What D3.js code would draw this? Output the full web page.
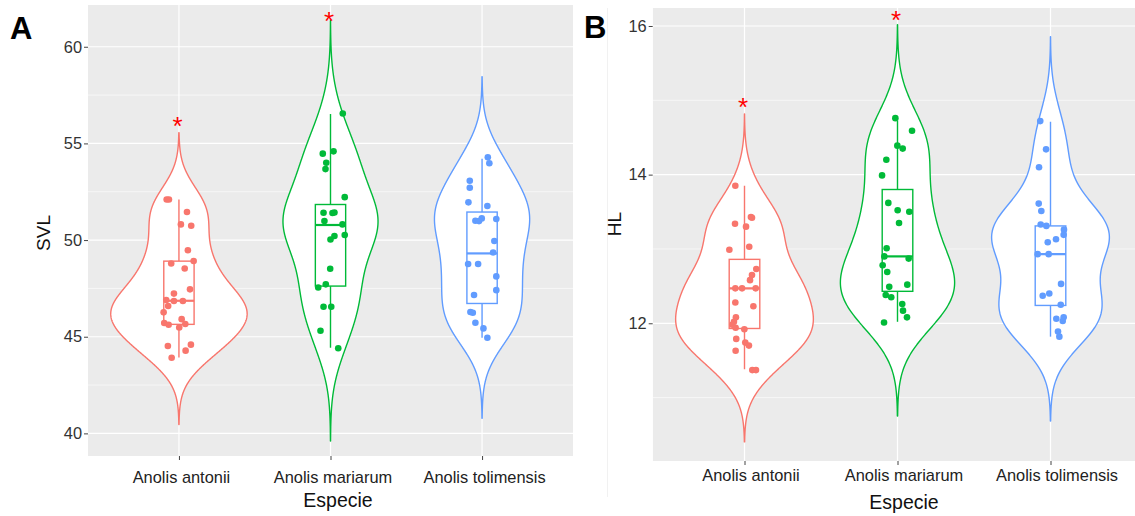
<!DOCTYPE html>
<html>
<head>
<meta charset="utf-8">
<script src="https://cdn.jsdelivr.net/npm/d3@7"></script>
<style>
  body { margin: 0; background: #fff; }
  svg { display: block; }
  text { font-family: "Liberation Sans", Arial, sans-serif; }
</style>
</head>
<body>
<svg id="chart" width="1135" height="516"></svg>
<script>
// ---------- data ----------
const species = ["Anolis antonii", "Anolis mariarum", "Anolis tolimensis"];
const speciesColors = ["#F8766D", "#00BA38", "#619CFF"];

// Snout-vent length (SVL) per individual, with horizontal jitter (category units)
const svlAntonii = [52.1, 52.1, 51.45, 50.81, 50.74, 49.47, 48.92, 48.79, 48.53, 47.45, 47.23, 46.90, 46.85,
  46.85, 46.59, 46.26, 45.91, 45.71, 45.62, 45.66, 45.48, 44.52, 44.59, 44.28, 43.91];
const svlAntoniiJitter = [-0.081, -0.066, 0.053, 0.013, 0.081, 0.059, 0.097, -0.051, 0.038, 0.073, -0.033, -0.084, -0.033,
  0.026, -0.071, -0.101, 0.018, -0.097, -0.068, 0.042, 0.002, -0.073, 0.079, 0.044, -0.048];
const svlMariarum = [56.55, 54.59, 54.47, 54.00, 53.67, 52.22, 51.41, 51.40, 51.43, 50.98, 50.81, 50.26, 50.21,
  50.03, 48.52, 47.71, 47.55, 46.55, 46.55, 45.31, 44.40];
const svlMariarumJitter = [0.081, 0.020, -0.051, -0.028, -0.033, 0.094, -0.046, 0.013, 0.026, -0.040, 0.079, 0.094, 0.026,
  0.000, -0.002, -0.031, -0.081, -0.046, 0.005, -0.066, 0.051];
const svlTolimensis = [54.28, 53.97, 53.07, 52.71, 51.95, 51.76, 51.12, 51.00, 50.98, 51.09, 49.95, 49.36, 48.76,
  48.76, 48.12, 47.41, 47.16, 46.28, 46.24, 45.72, 45.43, 44.95];
const svlTolimensisJitter = [0.038, 0.048, -0.081, -0.081, -0.090, 0.035, -0.002, -0.044, -0.020, 0.094, 0.081, 0.073, -0.092,
  -0.026, 0.094, 0.094, -0.053, -0.077, -0.061, -0.044, 0.009, 0.035];

// Head length (HL) per individual
const hlAntonii = [13.85, 13.43, 13.42, 13.34, 13.30, 13.03, 12.99, 12.73, 12.65, 12.58, 12.47, 12.47, 12.47,
  12.28, 12.23, 12.08, 12.02, 11.98, 11.94, 11.92, 11.79, 11.74, 11.70, 11.63, 11.37, 11.37];
const hlAntoniiJitter = [-0.060, 0.042, 0.049, -0.062, 0.010, 0.031, -0.099, 0.077, 0.049, 0.036, -0.060, -0.016, 0.073,
  -0.060, 0.058, -0.056, -0.069, -0.080, -0.058, -0.001, -0.054, 0.005, 0.029, -0.058, 0.051, 0.075];
const hlMariarum = [14.76, 14.59, 14.39, 14.35, 14.20, 13.99, 13.62, 13.52, 13.50, 13.35, 13.01, 12.90, 12.87,
  12.78, 12.69, 12.52, 12.49, 12.38, 12.35, 12.26, 12.17, 12.08, 12.01];
const hlMariarumJitter = [-0.014, 0.095, -0.001, 0.034, -0.073, -0.101, -0.060, 0.001, 0.077, 0.010, -0.071, -0.086, 0.073,
  -0.097, -0.067, 0.064, -0.054, -0.077, -0.041, 0.031, 0.036, 0.062, -0.088];
const hlTolimensis = [14.72, 14.34, 14.10, 13.61, 13.51, 13.33, 13.31, 13.26, 13.19, 13.13, 13.09, 12.93, 12.93,
  12.53, 12.40, 12.37, 12.25, 12.08, 12.06, 12.03, 11.89, 11.82];
const hlTolimensisJitter = [-0.067, -0.029, -0.075, -0.077, -0.060, -0.064, -0.027, 0.088, 0.086, 0.036, -0.018, -0.084, -0.012,
  0.069, -0.008, -0.051, 0.067, 0.086, 0.038, 0.080, 0.049, 0.058];

// Box-plot summaries (whisker low, Q1, median, Q3, whisker high), one entry per species
const svlWhiskerLow = [43.93, 44.43, 44.95];
const svlQ1 = [45.64, 47.62, 46.72];
const svlMedian = [46.86, 50.78, 49.31];
const svlQ3 = [48.91, 51.84, 51.45];
const svlWhiskerHigh = [52.10, 56.52, 54.21];

const hlWhiskerLow = [11.38, 12.02, 11.82];
const hlQ1 = [11.93, 12.43, 12.24];
const hlMedian = [12.47, 12.90, 12.93];
const hlQ3 = [12.86, 13.80, 13.31];
const hlWhiskerHigh = [13.85, 14.73, 14.71];

// Significance marks (height on the y scale; null = none)
const svlStars = [56.23, 61.69, null];
const hlStars = [15.00, 16.17, null];

// Axis breaks
const svlTicks = [40, 45, 50, 55, 60];
const svlMinorTicks = [42.5, 47.5, 52.5, 57.5];
const hlTicks = [12, 14, 16];
const hlMinorTicks = [11, 13, 15];

// ---------- helpers ----------
const svg = d3.select("#chart");

function bwNrd0(values) {
  const s = values.slice().sort(d3.ascending);
  const sd = d3.deviation(s);
  const iqr = d3.quantileSorted(s, 0.75) - d3.quantileSorted(s, 0.25);
  const lo = Math.min(sd, iqr / 1.34);
  return 0.9 * lo * Math.pow(s.length, -0.2);
}

function kde(values, nPts = 512) {
  const bw = bwNrd0(values);
  const [mn, mx] = d3.extent(values);
  const from = mn - 3 * bw, to = mx + 3 * bw;
  const norm = 1 / (values.length * bw * Math.sqrt(2 * Math.PI));
  return d3.range(nPts).map(i => {
    const v = from + (to - from) * i / (nPts - 1);
    const d = d3.sum(values, xi => Math.exp(-0.5 * ((v - xi) / bw) ** 2)) * norm;
    return { v, d };
  });
}

function drawPanel(cfg) {
  const g = svg.append("g");
  const x = d3.scalePoint().domain(species).range([cfg.left, cfg.right]).padding(0.6);
  const y = d3.scaleLinear().domain(cfg.domain).range([cfg.bottom, cfg.top]);
  const step = x.step();

  const clipId = "clip-" + cfg.id;
  svg.append("clipPath").attr("id", clipId)
    .append("rect").attr("x", cfg.left).attr("y", cfg.top)
    .attr("width", cfg.right - cfg.left).attr("height", cfg.bottom - cfg.top);

  const plot = g.append("g").attr("clip-path", `url(#${clipId})`);
  plot.append("rect")
    .attr("x", cfg.left).attr("y", cfg.top)
    .attr("width", cfg.right - cfg.left).attr("height", cfg.bottom - cfg.top)
    .attr("fill", "#EBEBEB");

  // grid
  plot.selectAll(".minor").data(cfg.minorTicks).join("line")
    .attr("x1", cfg.left).attr("x2", cfg.right)
    .attr("y1", d => y(d)).attr("y2", d => y(d))
    .attr("stroke", "#fff").attr("stroke-width", 0.6);
  plot.selectAll(".major").data(cfg.ticks).join("line")
    .attr("x1", cfg.left).attr("x2", cfg.right)
    .attr("y1", d => y(d)).attr("y2", d => y(d))
    .attr("stroke", "#fff").attr("stroke-width", 1.2);
  plot.selectAll(".vmajor").data(species).join("line")
    .attr("x1", d => x(d)).attr("x2", d => x(d))
    .attr("y1", cfg.top).attr("y2", cfg.bottom)
    .attr("stroke", "#fff").attr("stroke-width", 1.2);

  // violins (area-scaled: widest density across the panel spans 0.9 of a category)
  const dens = cfg.groups.map(gr => kde(gr.values));
  const maxD = d3.max(dens, ds => d3.max(ds, p => p.d));
  dens.forEach((ds, i) => {
    const cx = x(species[i]);
    const area = d3.area()
      .y(p => y(p.v))
      .x0(p => cx - 0.45 * step * p.d / maxD)
      .x1(p => cx + 0.45 * step * p.d / maxD);
    plot.append("path").attr("d", area(ds))
      .attr("fill", "#fff").attr("stroke", speciesColors[i]).attr("stroke-width", 1.4)
      .attr("stroke-linejoin", "round");
  });

  // box plots
  const bw = 0.2 * step;
  species.forEach((sp, i) => {
    const cx = x(sp), col = speciesColors[i];
    const bg = plot.append("g").attr("stroke", col).attr("fill", "none");
    bg.append("line").attr("x1", cx).attr("x2", cx)
      .attr("y1", y(cfg.whiskerHigh[i])).attr("y2", y(cfg.q3[i])).attr("stroke-width", 1.4);
    bg.append("line").attr("x1", cx).attr("x2", cx)
      .attr("y1", y(cfg.q1[i])).attr("y2", y(cfg.whiskerLow[i])).attr("stroke-width", 1.4);
    bg.append("rect").attr("x", cx - bw / 2).attr("width", bw)
      .attr("y", y(cfg.q3[i])).attr("height", y(cfg.q1[i]) - y(cfg.q3[i]))
      .attr("fill", "#fff").attr("stroke-width", 1.4);
    bg.append("line").attr("x1", cx - bw / 2).attr("x2", cx + bw / 2)
      .attr("y1", y(cfg.median[i])).attr("y2", y(cfg.median[i])).attr("stroke-width", 2.2);
  });

  // jittered observations
  cfg.groups.forEach((gr, i) => {
    const cx = x(species[i]);
    plot.append("g").selectAll("circle").data(gr.values).join("circle")
      .attr("cx", (v, k) => cx + gr.jitter[k] * step)
      .attr("cy", v => y(v))
      .attr("r", 3.3)
      .attr("fill", speciesColors[i]);
  });

  // significance asterisks
  g.selectAll(".star").data(cfg.stars).join("text")
    .filter(d => d !== null)
    .attr("x", (d, i) => x(species[cfg.stars.indexOf(d)]) - 1.5)
    .attr("y", d => y(d))
    .attr("dy", "0.6em")
    .attr("text-anchor", "middle")
    .attr("font-size", 26)
    .attr("fill", "#FF0000")
    .text("*");

  // axes
  const yAxis = g.append("g").attr("transform", `translate(${cfg.left},0)`)
    .call(d3.axisLeft(y).tickValues(cfg.ticks).tickSize(4).tickPadding(2).tickFormat(d3.format("d")));
  yAxis.select(".domain").remove();
  yAxis.selectAll("line").attr("stroke", "#444");
  yAxis.selectAll("text").attr("font-size", 16.4).attr("fill", "#333")
    .attr("font-family", '"Liberation Sans", Arial, sans-serif');

  const xAxis = g.append("g").attr("transform", `translate(0,${cfg.bottom})`)
    .call(d3.axisBottom(x).tickSize(4).tickPadding(cfg.xPad));
  xAxis.select(".domain").remove();
  xAxis.selectAll("line").attr("stroke", "#444");
  xAxis.selectAll("text").attr("font-size", 16.4).attr("fill", "#222")
    .attr("dx", cfg.xLabelShift)
    .attr("font-family", '"Liberation Sans", Arial, sans-serif');

  // titles
  g.append("text").attr("x", cfg.xTitleX).attr("y", cfg.xTitleY)
    .attr("text-anchor", "middle").attr("font-size", 19.5).attr("fill", "#111")
    .text("Especie");
  g.append("text")
    .attr("transform", `translate(${cfg.yTitleX},${cfg.yTitleY}) rotate(-90)`)
    .attr("text-anchor", "middle").attr("font-size", 19).attr("fill", "#111")
    .text(cfg.yTitle);
  g.append("text").attr("x", cfg.tagX).attr("y", cfg.tagY)
    .attr("font-size", 31).attr("font-weight", "bold").attr("fill", "#000")
    .text(cfg.tag);
}

// faint frame edge of the second figure
svg.append("line").attr("x1", 607.5).attr("x2", 607.5).attr("y1", 8).attr("y2", 497)
  .attr("stroke", "#f1f1f1").attr("stroke-width", 1);

drawPanel({
  id: "svl", tag: "A", tagX: 10, tagY: 39,
  left: 88, right: 573, top: 5, bottom: 456, domain: [38.83, 62.16],
  ticks: svlTicks, minorTicks: svlMinorTicks,
  groups: [
    { values: svlAntonii, jitter: svlAntoniiJitter },
    { values: svlMariarum, jitter: svlMariarumJitter },
    { values: svlTolimensis, jitter: svlTolimensisJitter }
  ],
  whiskerLow: svlWhiskerLow, q1: svlQ1, median: svlMedian, q3: svlQ3, whiskerHigh: svlWhiskerHigh,
  stars: svlStars,
  xPad: 11, xLabelShift: 2,
  xTitleX: 338, xTitleY: 506.5,
  yTitle: "SVL", yTitleX: 50, yTitleY: 233
});

drawPanel({
  id: "hl", tag: "B", tagX: 584, tagY: 38,
  left: 652.7, right: 1142.3, top: 8, bottom: 461, domain: [10.147, 16.242],
  ticks: hlTicks, minorTicks: hlMinorTicks,
  groups: [
    { values: hlAntonii, jitter: hlAntoniiJitter },
    { values: hlMariarum, jitter: hlMariarumJitter },
    { values: hlTolimensis, jitter: hlTolimensisJitter }
  ],
  whiskerLow: hlWhiskerLow, q1: hlQ1, median: hlMedian, q3: hlQ3, whiskerHigh: hlWhiskerHigh,
  stars: hlStars,
  xPad: 4, xLabelShift: 6,
  xTitleX: 904, xTitleY: 509,
  yTitle: "HL", yTitleX: 621, yTitleY: 224
});
</script>
</body>
</html>
